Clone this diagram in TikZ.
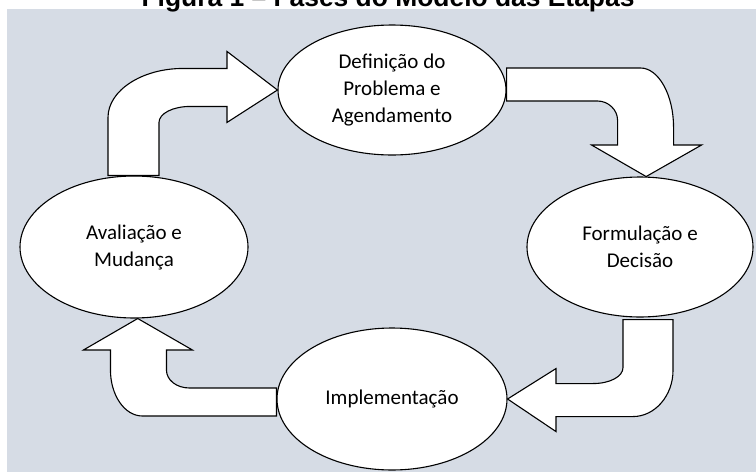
\documentclass[tikz,border=0pt]{standalone}
\usepackage{fontspec}
\setmainfont{Carlito}
\newfontfamily\titlefont{Liberation Sans}
\usepackage{xcolor}
\usetikzlibrary{shapes,arrows,positioning}

\definecolor{painel}{RGB}{214,220,229}

\begin{document}
\begin{tikzpicture}[x=1pt, y=-1pt, thick]
    % Estilos
    \tikzstyle{etapa}=[ellipse, draw=black, fill=white, line width=1.1pt, inner sep=0pt, align=center, font=\fontsize{21}{27}\selectfont]
    \tikzstyle{seta}=[draw=black, fill=white, line width=1.1pt, line join=miter]

    \clip (0,0) rectangle (756,472);
    \fill[painel] (7,9) rectangle (756,472);
    \node (titulo) at (388,6.5) [anchor=base, font=\titlefont\bfseries\fontsize{26.4}{30}\selectfont] {Figura 1 – Fases do Modelo das Etapas};

    % Etapas
    \node (defin) at (392,90) [etapa, minimum width=228, minimum height=130] {Definição do\\Problema e\\Agendamento};
    \node (formul) at (640,247) [etapa, minimum width=226, minimum height=140] {Formulação e\\Decisão};
    \node (implem) at (392,399) [etapa, minimum width=230, minimum height=142] {Implementação};
    \node (aval) at (134,247) [etapa, minimum width=228, minimum height=142] {Avaliação e\\Mudança};

    % Setas
    \begin{scope}[shift={(aval.north)}]
        \draw[seta] (-26,0) -- (-26,-58) .. controls (-26,-85) and (8,-107) .. (49,-107) -- (93,-107) -- (93,-124) -- (defin.west) -- (93,-53) -- (93,-69) -- (56,-69) .. controls (39,-69) and (25,-62) .. (25,-53) -- (25,0) -- cycle;
    \end{scope}
    \begin{scope}[shift={(defin.east)}]
        \draw[seta] (0,-22) -- (134,-22) .. controls (152,-22) and (167,5) .. (167,37) -- (167,55) -- (195,55) -- (formul.85) -- (85,55) -- (111,55) -- (111,30) .. controls (111,20) and (102,11) .. (91,11) -- (0,11) -- cycle;
    \end{scope}
    \begin{scope}[shift={(formul.south)}]
        \draw[seta] (-17,2) -- (33,2) -- (33,53) .. controls (33,78) and (15,99) .. (-7,99) -- (-84,99) -- (-84,114) -- (implem.east) -- (-84,51) -- (-84,66) -- (-47,66) .. controls (-30,66) and (-17,59) .. (-17,50) -- cycle;
    \end{scope}
    \begin{scope}[shift={(implem.west)}]
        \draw[seta] (0,-11) -- (-87,-11) .. controls (-100,-11) and (-110,-19) .. (-110,-29) -- (-110,-49) -- (-84,-49) -- (aval.-87) -- (-193,-49) -- (-166,-49) -- (-166,-29) .. controls (-166,-4) and (-152,17) .. (-134,17) -- (0,17) -- cycle;
    \end{scope}
\end{tikzpicture}
\end{document}
